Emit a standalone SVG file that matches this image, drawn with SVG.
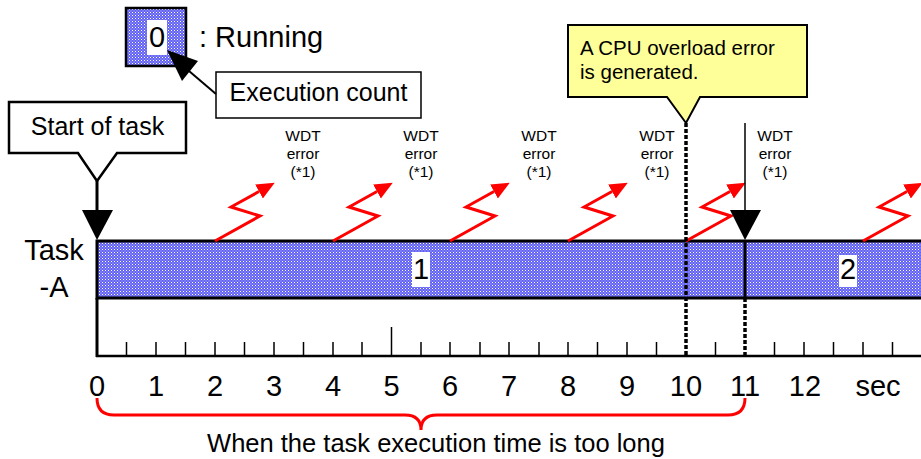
<svg xmlns="http://www.w3.org/2000/svg" width="921" height="459" viewBox="0 0 921 459">
<style>
text{font-family:"Liberation Sans",Arial,sans-serif;fill:#000}
.big{font-size:29px}
.lbl{font-size:25px}
.wdt{font-size:15.5px;text-anchor:middle}
.ax{font-size:29px;text-anchor:middle}
.tick{stroke:#000;stroke-width:1.5}
.bolt{fill:none;stroke:#ff0000;stroke-width:3;marker-end:url(#ah)}
.dot{stroke:#000;stroke-width:3.5;stroke-dasharray:4 2;fill:none}
.blue{fill:#6262f2}
</style>
<defs>
<pattern id="dots" x="0" y="0" width="3" height="3" patternUnits="userSpaceOnUse">
<rect x="0" y="0" width="1" height="1" fill="#ffffff"/>
<rect x="1.5" y="1.5" width="1" height="1" fill="#c8c8ff"/>
</pattern>
<marker id="ah" markerUnits="userSpaceOnUse" markerWidth="20" markerHeight="20" refX="0" refY="8" orient="auto" viewBox="0 0 20 16">
<path d="M0,0 L18,8 L0,16 z" fill="#ff0000"/>
</marker>
</defs>
<g id="legend">
<rect class="blue" x="126" y="8" width="60" height="58"/>
<rect x="126" y="8" width="60" height="58" fill="url(#dots)" stroke="#000" stroke-width="2.5"/>
<rect x="147" y="20" width="20" height="35" fill="#fff"/>
<text class="big" x="157" y="47" text-anchor="middle">0</text>
<text class="big" x="199" y="47">: Running</text>
</g>
<g id="exec-count">
<rect x="216" y="72" width="205" height="46" fill="#fff" stroke="#000" stroke-width="1.5"/>
<text class="lbl" x="318.5" y="101" text-anchor="middle">Execution count</text>
<line x1="216" y1="94" x2="189" y2="71" stroke="#000" stroke-width="2"/>
<path d="M167,50 L182,81 L198,61 z" fill="#000"/>
</g>
<g id="start-of-task">
<path d="M9,102 H186 V153 H117 L97,181 L78,153 H9 z" fill="#fff" stroke="#000" stroke-width="2.5"/>
<text class="lbl" x="97.5" y="135" text-anchor="middle">Start of task</text>
<line x1="97" y1="181" x2="97" y2="212" stroke="#000" stroke-width="3"/>
<path d="M82,210 L113,210 L97,240 z" fill="#000"/>
</g>
<g id="cpu-callout">
<path d="M568,25 H807 V97 H700 L686,123 L667,97 H568 z" fill="#ffff99" stroke="#000" stroke-width="2"/>
<text x="580" y="55" font-size="20.5">A CPU overload error</text>
<text x="580" y="79" font-size="20.5">is generated.</text>
</g>
<g id="task-label">
<text class="big" x="54" y="260" text-anchor="middle">Task</text>
<text class="big" x="54" y="297" text-anchor="middle">-A</text>
</g>
<g id="task-bar">
<rect class="blue" x="97" y="241" width="830" height="57"/>
<rect x="97" y="241" width="830" height="57" fill="url(#dots)" stroke="#000" stroke-width="3"/>
<rect x="412" y="252" width="18" height="35" fill="#fff"/>
<text class="big" x="421" y="279" text-anchor="middle">1</text>
<rect x="839" y="255" width="18" height="32" fill="#fff"/>
<text class="big" x="848" y="279" text-anchor="middle">2</text>
</g>
<g id="wdt-labels">
<text class="wdt" x="303" y="141">WDT</text><text class="wdt" x="303" y="159">error</text><text class="wdt" x="303" y="177">(*1)</text>
<text class="wdt" x="421" y="141">WDT</text><text class="wdt" x="421" y="159">error</text><text class="wdt" x="421" y="177">(*1)</text>
<text class="wdt" x="539" y="141">WDT</text><text class="wdt" x="539" y="159">error</text><text class="wdt" x="539" y="177">(*1)</text>
<text class="wdt" x="657" y="141">WDT</text><text class="wdt" x="657" y="159">error</text><text class="wdt" x="657" y="177">(*1)</text>
<text class="wdt" x="775" y="141">WDT</text><text class="wdt" x="775" y="159">error</text><text class="wdt" x="775" y="177">(*1)</text>
</g>
<g id="connectors">
<polyline class="bolt" points="215,241 260,216 231,207 259,191.5"/>
<polyline class="bolt" points="333,241 378,216 349,207 377,191.5"/>
<polyline class="bolt" points="450,241 495,216 466,207 494,191.5"/>
<polyline class="bolt" points="568,241 613,216 584,207 612,191.5"/>
<polyline class="bolt" points="686,241 731,216 702,207 730,191.5"/>
<polyline class="bolt" points="863,241 908,216 879,207 907,191.5"/>
<line class="dot" x1="686" y1="123" x2="686" y2="356"/>
<line x1="745" y1="123" x2="745" y2="212" stroke="#000" stroke-width="1.5"/>
<path d="M730,210 L761,210 L745,240 z" fill="#000"/>
<line x1="745" y1="240" x2="745" y2="298" stroke="#000" stroke-width="3"/>
<line class="dot" x1="745" y1="298" x2="745" y2="356"/>
<path d="M97,398 Q97,415 114,415 L405,415 Q421,415 421,430 Q421,415 437,415 L728,415 Q745,415 745,398" fill="none" stroke="#ff0000" stroke-width="3"/>
</g>
<g id="axis">
<line x1="97" y1="298" x2="97" y2="357" stroke="#000" stroke-width="3"/>
<line x1="96" y1="356" x2="921" y2="356" stroke="#000" stroke-width="2.5"/>
<g class="tick">
<line x1="126.5" y1="342" x2="126.5" y2="356"/>
<line x1="156" y1="342" x2="156" y2="356"/>
<line x1="185.5" y1="342" x2="185.5" y2="356"/>
<line x1="215" y1="342" x2="215" y2="356"/>
<line x1="244.5" y1="342" x2="244.5" y2="356"/>
<line x1="274" y1="342" x2="274" y2="356"/>
<line x1="303.5" y1="342" x2="303.5" y2="356"/>
<line x1="333" y1="342" x2="333" y2="356"/>
<line x1="362" y1="342" x2="362" y2="356"/>
<line x1="391.5" y1="327" x2="391.5" y2="356"/>
<line x1="421" y1="342" x2="421" y2="356"/>
<line x1="450" y1="342" x2="450" y2="356"/>
<line x1="480" y1="342" x2="480" y2="356"/>
<line x1="509" y1="342" x2="509" y2="356"/>
<line x1="539" y1="342" x2="539" y2="356"/>
<line x1="568" y1="342" x2="568" y2="356"/>
<line x1="597.5" y1="342" x2="597.5" y2="356"/>
<line x1="627" y1="342" x2="627" y2="356"/>
<line x1="656.5" y1="342" x2="656.5" y2="356"/>
<line x1="715.5" y1="342" x2="715.5" y2="356"/>
<line x1="774.5" y1="342" x2="774.5" y2="356"/>
<line x1="804" y1="342" x2="804" y2="356"/>
<line x1="833.5" y1="342" x2="833.5" y2="356"/>
<line x1="863" y1="342" x2="863" y2="356"/>
<line x1="892.5" y1="342" x2="892.5" y2="356"/>
</g>
<text class="ax" x="97" y="396">0</text>
<text class="ax" x="156" y="396">1</text>
<text class="ax" x="215" y="396">2</text>
<text class="ax" x="274" y="396">3</text>
<text class="ax" x="333" y="396">4</text>
<text class="ax" x="391.5" y="396">5</text>
<text class="ax" x="450" y="396">6</text>
<text class="ax" x="509" y="396">7</text>
<text class="ax" x="568" y="396">8</text>
<text class="ax" x="627" y="396">9</text>
<text class="ax" x="686" y="396">10</text>
<text class="ax" x="745" y="396">11</text>
<text class="ax" x="805" y="396">12</text>
<text class="ax" x="878" y="396">sec</text>
</g>
<g id="bracket-label">
<text x="436" y="452" font-size="25.5" text-anchor="middle">When the task execution time is too long</text>
</g>
</svg>
